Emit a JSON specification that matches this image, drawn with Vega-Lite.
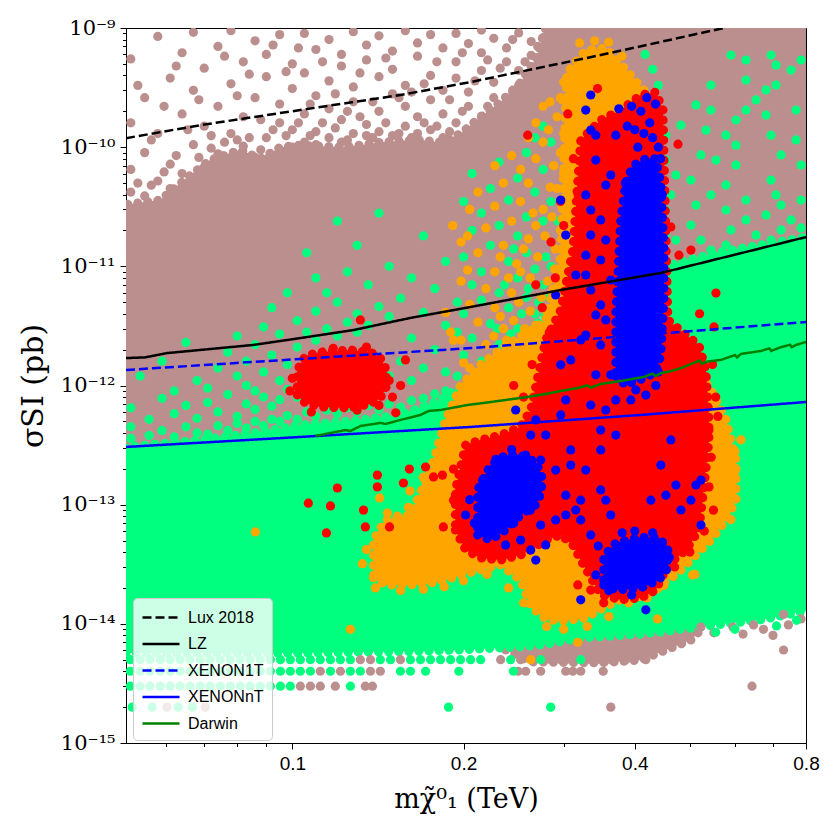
{
  "$schema": "https://vega.github.io/schema/vega-lite/v6.json",
  "width": 680,
  "height": 715,
  "autosize": {"type": "none"},
  "padding": {"left": 126, "top": 28, "right": 34, "bottom": 97},
  "background": "white",
  "config": {
    "view": {"stroke": "black", "strokeWidth": 1},
    "axis": {"grid": false, "domainColor": "black", "tickColor": "black", "labelColor": "black", "titleColor": "black", "titleFontWeight": "normal"}
  },
  "datasets": {
    "brownBand": [
      {"g": "top", "x": 0.051, "y": 3.05e-13, "y2": 3.3e-11},
      {"g": "top", "x": 0.0586, "y": 3.27e-13, "y2": 3.6e-11},
      {"g": "top", "x": 0.0661, "y": 3.4e-13, "y2": 5.8e-11},
      {"g": "top", "x": 0.0717, "y": 3.55e-13, "y2": 7.8e-11},
      {"g": "top", "x": 0.081, "y": 3.84e-13, "y2": 9.5e-11},
      {"g": "top", "x": 0.0878, "y": 4.07e-13, "y2": 8.0e-11},
      {"g": "top", "x": 0.0953, "y": 4.4e-13, "y2": 1.0e-10},
      {"g": "top", "x": 0.1033, "y": 4.66e-13, "y2": 1.04e-10},
      {"g": "top", "x": 0.1215, "y": 5.0e-13, "y2": 1.0e-10},
      {"g": "top", "x": 0.1317, "y": 5.14e-13, "y2": 1.04e-10},
      {"g": "top", "x": 0.1428, "y": 5.35e-13, "y2": 1.1e-10},
      {"g": "top", "x": 0.1549, "y": 5.66e-13, "y2": 1.13e-10},
      {"g": "top", "x": 0.168, "y": 6.5e-13, "y2": 1.15e-10},
      {"g": "top", "x": 0.1822, "y": 7.56e-13, "y2": 1.1e-10},
      {"g": "top", "x": 0.1976, "y": 9.6e-13, "y2": 1.3e-10},
      {"g": "top", "x": 0.2143, "y": 1.3e-12, "y2": 1.8e-10},
      {"g": "top", "x": 0.2324, "y": 1.77e-12, "y2": 2.4e-10},
      {"g": "top", "x": 0.252, "y": 2.41e-12, "y2": 3.5e-10},
      {"g": "top", "x": 0.2679, "y": 3.3e-12, "y2": 5.5e-10},
      {"g": "top", "x": 0.2789, "y": 4.6e-12, "y2": 1e-9},
      {"g": "top", "x": 0.2964, "y": 5.22e-12, "y2": 1e-9},
      {"g": "top", "x": 0.3485, "y": 6.97e-12, "y2": 1e-9},
      {"g": "top", "x": 0.41, "y": 8.46e-12, "y2": 1e-9},
      {"g": "top", "x": 0.4822, "y": 1.09e-11, "y2": 1e-9},
      {"g": "top", "x": 0.567, "y": 1.32e-11, "y2": 1e-9},
      {"g": "top", "x": 0.6668, "y": 1.51e-11, "y2": 1e-9},
      {"g": "top", "x": 0.8, "y": 1.76e-11, "y2": 1e-9},
      {"g": "bot", "x": 0.2371, "y": 6.03e-15, "y2": 7.32e-15},
      {"g": "bot", "x": 0.2625, "y": 4.79e-15, "y2": 7.32e-15},
      {"g": "bot", "x": 0.3485, "y": 4.7e-15, "y2": 8.88e-15},
      {"g": "bot", "x": 0.41, "y": 4.97e-15, "y2": 9.23e-15},
      {"g": "bot", "x": 0.4536, "y": 6.03e-15, "y2": 9.78e-15},
      {"g": "bot", "x": 0.5021, "y": 7.32e-15, "y2": 1.08e-14},
      {"g": "bot", "x": 0.5229, "y": 8.88e-15, "y2": 1.12e-14}
    ],
    "greenBand": [
      {"g": "main", "x": 0.051, "y": 5.69e-15, "y2": 3.05e-13},
      {"g": "main", "x": 0.0689, "y": 5.69e-15, "y2": 3.49e-13},
      {"g": "main", "x": 0.0878, "y": 5.69e-15, "y2": 4.07e-13},
      {"g": "main", "x": 0.1033, "y": 5.69e-15, "y2": 4.66e-13},
      {"g": "main", "x": 0.1317, "y": 5.8e-15, "y2": 5.14e-13},
      {"g": "main", "x": 0.1549, "y": 5.85e-15, "y2": 5.66e-13},
      {"g": "main", "x": 0.1822, "y": 5.95e-15, "y2": 7.56e-13},
      {"g": "main", "x": 0.2058, "y": 6.1e-15, "y2": 1.11e-12},
      {"g": "main", "x": 0.252, "y": 6.4e-15, "y2": 2.41e-12},
      {"g": "main", "x": 0.2733, "y": 6.65e-15, "y2": 3.55e-12},
      {"g": "main", "x": 0.2964, "y": 7.1e-15, "y2": 5.22e-12},
      {"g": "main", "x": 0.3214, "y": 7.61e-15, "y2": 6.2e-12},
      {"g": "main", "x": 0.3485, "y": 7.8e-15, "y2": 6.97e-12},
      {"g": "main", "x": 0.378, "y": 7.98e-15, "y2": 7.7e-12},
      {"g": "main", "x": 0.41, "y": 8.2e-15, "y2": 8.46e-12},
      {"g": "main", "x": 0.4445, "y": 8.54e-15, "y2": 9.6e-12},
      {"g": "main", "x": 0.4822, "y": 9.0e-15, "y2": 1.09e-11},
      {"g": "main", "x": 0.5229, "y": 9.41e-15, "y2": 1.2e-11},
      {"g": "main", "x": 0.567, "y": 9.9e-15, "y2": 1.32e-11},
      {"g": "main", "x": 0.6668, "y": 1.08e-14, "y2": 1.51e-11},
      {"g": "main", "x": 0.8, "y": 1.28e-14, "y2": 1.76e-11}
    ],
    "orangeBand": [
      {"g": "main", "x": 0.1389, "y": 2.43e-14, "y2": 5.05e-14},
      {"g": "main", "x": 0.1458, "y": 2.12e-14, "y2": 7.44e-14},
      {"g": "main", "x": 0.1613, "y": 2.12e-14, "y2": 8.19e-14},
      {"g": "main", "x": 0.175, "y": 2.2e-14, "y2": 1.95e-13},
      {"g": "main", "x": 0.186, "y": 2.33e-14, "y2": 5.14e-13},
      {"g": "main", "x": 0.1976, "y": 2.57e-14, "y2": 1.0e-12},
      {"g": "main", "x": 0.2143, "y": 2.83e-14, "y2": 1.5e-12},
      {"g": "main", "x": 0.2324, "y": 3.12e-14, "y2": 2.0e-12},
      {"g": "main", "x": 0.252, "y": 2.33e-14, "y2": 2.6e-12},
      {"g": "main", "x": 0.2625, "y": 1.4e-14, "y2": 2.9e-12},
      {"g": "main", "x": 0.2789, "y": 1.1e-14, "y2": 3.5e-12},
      {"g": "main", "x": 0.2964, "y": 1.05e-14, "y2": 1.2e-11},
      {"g": "main", "x": 0.3037, "y": 1.07e-14, "y2": 4.2e-10},
      {"g": "main", "x": 0.328, "y": 1.12e-14, "y2": 6.5e-10},
      {"g": "main", "x": 0.3557, "y": 1.4e-14, "y2": 6.8e-10},
      {"g": "main", "x": 0.378, "y": 1.6e-14, "y2": 5.0e-10},
      {"g": "main", "x": 0.41, "y": 1.7e-14, "y2": 3.2e-10},
      {"g": "main", "x": 0.4356, "y": 1.9e-14, "y2": 2.4e-10},
      {"g": "main", "x": 0.4536, "y": 2.3e-14, "y2": 2.92e-12},
      {"g": "main", "x": 0.4724, "y": 2.57e-14, "y2": 2.4e-12},
      {"g": "main", "x": 0.5021, "y": 3.43e-14, "y2": 1.64e-12},
      {"g": "main", "x": 0.5445, "y": 5.05e-14, "y2": 9.17e-13},
      {"g": "main", "x": 0.5786, "y": 7.44e-14, "y2": 5.14e-13},
      {"g": "main", "x": 0.6026, "y": 1.09e-13, "y2": 2.37e-13}
    ],
    "redBand": [
      {"g": "blob", "x": 0.102, "y": 8.32e-13, "y2": 1.35e-12},
      {"g": "blob", "x": 0.1054, "y": 7.13e-13, "y2": 1.77e-12},
      {"g": "blob", "x": 0.112, "y": 6.6e-13, "y2": 1.91e-12},
      {"g": "blob", "x": 0.1265, "y": 6.48e-13, "y2": 1.99e-12},
      {"g": "blob", "x": 0.1372, "y": 7.0e-13, "y2": 1.91e-12},
      {"g": "blob", "x": 0.1428, "y": 7.85e-13, "y2": 1.7e-12},
      {"g": "blob", "x": 0.1464, "y": 9.81e-13, "y2": 1.35e-12},
      {"g": "main", "x": 0.1935, "y": 6.13e-14, "y2": 1.33e-13},
      {"g": "main", "x": 0.2017, "y": 4.17e-14, "y2": 3.17e-13},
      {"g": "main", "x": 0.2143, "y": 3.57e-14, "y2": 3.49e-13},
      {"g": "main", "x": 0.2324, "y": 3.43e-14, "y2": 3.84e-13},
      {"g": "main", "x": 0.252, "y": 3.78e-14, "y2": 4.5e-13},
      {"g": "main", "x": 0.2625, "y": 4.17e-14, "y2": 6.23e-13},
      {"g": "main", "x": 0.2789, "y": 5.05e-14, "y2": 2.41e-12},
      {"g": "main", "x": 0.2964, "y": 5.57e-14, "y2": 4.3e-12},
      {"g": "main", "x": 0.3113, "y": 4.59e-14, "y2": 1.37e-11},
      {"g": "main", "x": 0.3214, "y": 3.43e-14, "y2": 1.149e-10},
      {"g": "main", "x": 0.3485, "y": 1.75e-14, "y2": 1.69e-10},
      {"g": "main", "x": 0.378, "y": 1.59e-14, "y2": 2.05e-10},
      {"g": "main", "x": 0.41, "y": 1.65e-14, "y2": 2.74e-10},
      {"g": "main", "x": 0.4356, "y": 1.92e-14, "y2": 2.9e-10},
      {"g": "main", "x": 0.4484, "y": 2.57e-14, "y2": 2.05e-10},
      {"g": "main", "x": 0.4575, "y": 3.12e-14, "y2": 3.55e-12},
      {"g": "main", "x": 0.4924, "y": 4.17e-14, "y2": 2.65e-12},
      {"g": "main", "x": 0.5186, "y": 6.13e-14, "y2": 2.19e-12},
      {"g": "main", "x": 0.5335, "y": 1.95e-13, "y2": 1.35e-12},
      {"g": "main", "x": 0.5401, "y": 3.49e-13, "y2": 5.14e-13}
    ],
    "blueBand": [
      {"g": "col", "x": 0.3704, "y": 1.2e-12, "y2": 4.0e-12},
      {"g": "col", "x": 0.378, "y": 1.1e-12, "y2": 2.5e-11},
      {"g": "col", "x": 0.3857, "y": 1.0e-12, "y2": 5.0e-11},
      {"g": "col", "x": 0.3968, "y": 1.07e-12, "y2": 7.0e-11},
      {"g": "col", "x": 0.4183, "y": 1.16e-12, "y2": 8.0e-11},
      {"g": "col", "x": 0.4356, "y": 1.3e-12, "y2": 8.0e-11},
      {"g": "col", "x": 0.4445, "y": 1.8e-12, "y2": 5.0e-11},
      {"g": "col", "x": 0.45, "y": 5.22e-12, "y2": 1.5e-11},
      {"g": "b1", "x": 0.2117, "y": 5.57e-14, "y2": 1.33e-13},
      {"g": "b1", "x": 0.2232, "y": 5.05e-14, "y2": 2.15e-13},
      {"g": "b1", "x": 0.2371, "y": 6.13e-14, "y2": 2.61e-13},
      {"g": "b1", "x": 0.252, "y": 8.19e-14, "y2": 2.61e-13},
      {"g": "b1", "x": 0.2678, "y": 9.94e-14, "y2": 2.28e-13},
      {"g": "b1", "x": 0.2744, "y": 1.28e-13, "y2": 1.77e-13},
      {"g": "b2", "x": 0.3527, "y": 2.12e-14, "y2": 3.71e-14},
      {"g": "b2", "x": 0.3705, "y": 1.92e-14, "y2": 4.77e-14},
      {"g": "b2", "x": 0.41, "y": 2.0e-14, "y2": 5.36e-14},
      {"g": "b2", "x": 0.441, "y": 2.33e-14, "y2": 5.25e-14},
      {"g": "b2", "x": 0.4575, "y": 2.94e-14, "y2": 4.33e-14}
    ],
    "dots": [
      {"c": "br", "x": 0.052, "y": 4.2e-11}, {"c": "br", "x": 0.052, "y": 6.5e-11}, {"c": "br", "x": 0.052, "y": 1.6e-10}, {"c": "br", "x": 0.052, "y": 5.5e-10},
      {"c": "br", "x": 0.055, "y": 3.9e-11}, {"c": "br", "x": 0.055, "y": 9e-11}, {"c": "br", "x": 0.055, "y": 2.6e-10},
      {"c": "br", "x": 0.058, "y": 5.2e-11}, {"c": "br", "x": 0.058, "y": 1.3e-10}, {"c": "br", "x": 0.058, "y": 8.5e-10},
      {"c": "br", "x": 0.061, "y": 4.5e-11}, {"c": "br", "x": 0.061, "y": 7.2e-11}, {"c": "br", "x": 0.061, "y": 3.8e-10},
      {"c": "br", "x": 0.064, "y": 6e-11}, {"c": "br", "x": 0.064, "y": 1.9e-10}, {"c": "br", "x": 0.064, "y": 6.2e-10},
      {"c": "br", "x": 0.067, "y": 5.5e-11}, {"c": "br", "x": 0.067, "y": 1.05e-10}, {"c": "br", "x": 0.067, "y": 3e-10}, {"c": "br", "x": 0.067, "y": 9.2e-10},
      {"c": "br", "x": 0.07, "y": 6.8e-11}, {"c": "br", "x": 0.07, "y": 1.5e-10}, {"c": "br", "x": 0.07, "y": 4.6e-10},
      {"c": "br", "x": 0.074, "y": 6.2e-11}, {"c": "br", "x": 0.074, "y": 8.8e-11}, {"c": "br", "x": 0.074, "y": 2.2e-10}, {"c": "br", "x": 0.074, "y": 7e-10},
      {"c": "br", "x": 0.078, "y": 7.5e-11}, {"c": "br", "x": 0.078, "y": 1.3e-10}, {"c": "br", "x": 0.078, "y": 3.4e-10}, {"c": "br", "x": 0.078, "y": 9.5e-10},
      {"c": "br", "x": 0.082, "y": 6.8e-11}, {"c": "br", "x": 0.082, "y": 1.02e-10}, {"c": "br", "x": 0.082, "y": 1.8e-10}, {"c": "br", "x": 0.082, "y": 5.2e-10},
      {"c": "br", "x": 0.086, "y": 8.2e-11}, {"c": "br", "x": 0.086, "y": 2.6e-10}, {"c": "br", "x": 0.086, "y": 7.8e-10},
      {"c": "br", "x": 0.09, "y": 7.9e-11}, {"c": "br", "x": 0.09, "y": 1.2e-10}, {"c": "br", "x": 0.09, "y": 3.9e-10}, {"c": "br", "x": 0.09, "y": 6e-10},
      {"c": "br", "x": 0.095, "y": 9e-11}, {"c": "br", "x": 0.095, "y": 1.6e-10}, {"c": "br", "x": 0.095, "y": 2.3e-10}, {"c": "br", "x": 0.095, "y": 8.8e-10},
      {"c": "br", "x": 0.1, "y": 1e-10}, {"c": "br", "x": 0.1, "y": 1.4e-10}, {"c": "br", "x": 0.1, "y": 3.1e-10}, {"c": "br", "x": 0.1, "y": 5e-10},
      {"c": "br", "x": 0.105, "y": 1.1e-10}, {"c": "br", "x": 0.105, "y": 1.9e-10}, {"c": "br", "x": 0.105, "y": 4.2e-10}, {"c": "br", "x": 0.105, "y": 9e-10},
      {"c": "br", "x": 0.11, "y": 1.05e-10}, {"c": "br", "x": 0.11, "y": 1.35e-10}, {"c": "br", "x": 0.11, "y": 2.7e-10}, {"c": "br", "x": 0.11, "y": 6.6e-10},
      {"c": "br", "x": 0.116, "y": 1.2e-10}, {"c": "br", "x": 0.116, "y": 2.1e-10}, {"c": "br", "x": 0.116, "y": 3.6e-10}, {"c": "br", "x": 0.116, "y": 8e-10},
      {"c": "br", "x": 0.122, "y": 1.1e-10}, {"c": "br", "x": 0.122, "y": 1.7e-10}, {"c": "br", "x": 0.122, "y": 4.8e-10}, {"c": "br", "x": 0.122, "y": 6e-10},
      {"c": "br", "x": 0.128, "y": 1.3e-10}, {"c": "br", "x": 0.128, "y": 2.4e-10}, {"c": "br", "x": 0.128, "y": 3.2e-10}, {"c": "br", "x": 0.128, "y": 9.3e-10},
      {"c": "br", "x": 0.135, "y": 1.25e-10}, {"c": "br", "x": 0.135, "y": 1.55e-10}, {"c": "br", "x": 0.135, "y": 5.4e-10}, {"c": "br", "x": 0.135, "y": 7.2e-10},
      {"c": "br", "x": 0.142, "y": 1.35e-10}, {"c": "br", "x": 0.142, "y": 2e-10}, {"c": "br", "x": 0.142, "y": 3.9e-10}, {"c": "br", "x": 0.142, "y": 8.6e-10},
      {"c": "br", "x": 0.15, "y": 1.25e-10}, {"c": "br", "x": 0.15, "y": 2.8e-10}, {"c": "br", "x": 0.15, "y": 4.5e-10}, {"c": "br", "x": 0.15, "y": 6.4e-10},
      {"c": "br", "x": 0.158, "y": 1.5e-10}, {"c": "br", "x": 0.158, "y": 2.2e-10}, {"c": "br", "x": 0.158, "y": 3.3e-10}, {"c": "br", "x": 0.158, "y": 9.5e-10},
      {"c": "br", "x": 0.166, "y": 1.3e-10}, {"c": "br", "x": 0.166, "y": 1.8e-10}, {"c": "br", "x": 0.166, "y": 5.8e-10}, {"c": "br", "x": 0.166, "y": 7.5e-10},
      {"c": "br", "x": 0.175, "y": 1.4e-10}, {"c": "br", "x": 0.175, "y": 2.5e-10}, {"c": "br", "x": 0.175, "y": 4e-10}, {"c": "br", "x": 0.175, "y": 8.8e-10},
      {"c": "br", "x": 0.184, "y": 1.2e-10}, {"c": "br", "x": 0.184, "y": 1.9e-10}, {"c": "br", "x": 0.184, "y": 3e-10}, {"c": "br", "x": 0.184, "y": 6.8e-10},
      {"c": "br", "x": 0.194, "y": 1.05e-10}, {"c": "br", "x": 0.194, "y": 1.6e-10}, {"c": "br", "x": 0.194, "y": 3.8e-10}, {"c": "br", "x": 0.194, "y": 5.2e-10}, {"c": "br", "x": 0.194, "y": 9e-10},
      {"c": "br", "x": 0.204, "y": 1.2e-10}, {"c": "br", "x": 0.204, "y": 2.2e-10}, {"c": "br", "x": 0.204, "y": 2.9e-10}, {"c": "br", "x": 0.204, "y": 7.4e-10},
      {"c": "br", "x": 0.215, "y": 1.35e-10}, {"c": "br", "x": 0.215, "y": 1.8e-10}, {"c": "br", "x": 0.215, "y": 4.4e-10}, {"c": "br", "x": 0.215, "y": 6.2e-10}, {"c": "br", "x": 0.215, "y": 9.6e-10},
      {"c": "br", "x": 0.226, "y": 1.9e-10}, {"c": "br", "x": 0.226, "y": 2.6e-10}, {"c": "br", "x": 0.226, "y": 3.5e-10}, {"c": "br", "x": 0.226, "y": 8.2e-10},
      {"c": "br", "x": 0.238, "y": 1.7e-10}, {"c": "br", "x": 0.238, "y": 2.3e-10}, {"c": "br", "x": 0.238, "y": 5.2e-10}, {"c": "br", "x": 0.238, "y": 6.8e-10},
      {"c": "br", "x": 0.25, "y": 2.1e-10}, {"c": "br", "x": 0.25, "y": 3.3e-10}, {"c": "br", "x": 0.25, "y": 4.4e-10}, {"c": "br", "x": 0.25, "y": 9.1e-10},
      {"c": "br", "x": 0.263, "y": 3.2e-10}, {"c": "br", "x": 0.263, "y": 4.1e-10}, {"c": "br", "x": 0.263, "y": 5.9e-10}, {"c": "br", "x": 0.263, "y": 7.7e-10},
      {"c": "br", "x": 0.276, "y": 4.5e-10}, {"c": "br", "x": 0.276, "y": 6e-10}, {"c": "br", "x": 0.276, "y": 8.3e-10},
      {"c": "br", "x": 0.0535, "y": 5e-11}, {"c": "br", "x": 0.0535, "y": 3.3e-10}, {"c": "br", "x": 0.0565, "y": 4.8e-11}, {"c": "br", "x": 0.0565, "y": 1.15e-10},
      {"c": "br", "x": 0.0595, "y": 6.2e-11}, {"c": "br", "x": 0.0595, "y": 2.2e-10}, {"c": "br", "x": 0.0625, "y": 8.5e-11}, {"c": "br", "x": 0.0625, "y": 4.8e-10},
      {"c": "br", "x": 0.0655, "y": 4.9e-11}, {"c": "br", "x": 0.0655, "y": 1.4e-10}, {"c": "br", "x": 0.0685, "y": 8.2e-11}, {"c": "br", "x": 0.0685, "y": 2.5e-10},
      {"c": "br", "x": 0.072, "y": 9.8e-11}, {"c": "br", "x": 0.072, "y": 1.25e-10}, {"c": "br", "x": 0.076, "y": 1.1e-10}, {"c": "br", "x": 0.076, "y": 5.8e-10},
      {"c": "br", "x": 0.08, "y": 1.15e-10}, {"c": "br", "x": 0.08, "y": 2.7e-10}, {"c": "br", "x": 0.084, "y": 1.2e-10}, {"c": "br", "x": 0.084, "y": 4.1e-10},
      {"c": "br", "x": 0.088, "y": 9.5e-11}, {"c": "br", "x": 0.088, "y": 1.7e-10}, {"c": "br", "x": 0.0925, "y": 1.4e-10}, {"c": "br", "x": 0.0925, "y": 7.2e-10},
      {"c": "br", "x": 0.0975, "y": 1.25e-10}, {"c": "br", "x": 0.0975, "y": 4.3e-10}, {"c": "br", "x": 0.1025, "y": 1.6e-10}, {"c": "br", "x": 0.1025, "y": 6.8e-10},
      {"c": "br", "x": 0.1075, "y": 2.3e-10}, {"c": "br", "x": 0.1075, "y": 1.25e-10}, {"c": "br", "x": 0.113, "y": 1.6e-10}, {"c": "br", "x": 0.113, "y": 5.2e-10},
      {"c": "br", "x": 0.119, "y": 1.45e-10}, {"c": "br", "x": 0.119, "y": 2.8e-10}, {"c": "br", "x": 0.125, "y": 2e-10}, {"c": "br", "x": 0.125, "y": 1.15e-10},
      {"c": "br", "x": 0.1315, "y": 1.8e-10}, {"c": "br", "x": 0.1315, "y": 4.2e-10}, {"c": "br", "x": 0.1385, "y": 2.4e-10}, {"c": "br", "x": 0.1385, "y": 1.2e-10},
      {"c": "br", "x": 0.146, "y": 1.6e-10}, {"c": "br", "x": 0.146, "y": 5.6e-10}, {"c": "br", "x": 0.154, "y": 1.3e-10}, {"c": "br", "x": 0.154, "y": 2.6e-10},
      {"c": "br", "x": 0.162, "y": 2.9e-10}, {"c": "br", "x": 0.162, "y": 1.2e-10}, {"c": "br", "x": 0.1705, "y": 1.6e-10}, {"c": "br", "x": 0.1705, "y": 3.4e-10},
      {"c": "br", "x": 0.1795, "y": 1.5e-10}, {"c": "br", "x": 0.1795, "y": 5.2e-10}, {"c": "br", "x": 0.189, "y": 2.5e-10}, {"c": "br", "x": 0.189, "y": 1.35e-10},
      {"c": "br", "x": 0.199, "y": 2e-10}, {"c": "br", "x": 0.199, "y": 6.2e-10}, {"c": "br", "x": 0.2095, "y": 1.55e-10}, {"c": "br", "x": 0.2095, "y": 3.6e-10},
      {"c": "br", "x": 0.2205, "y": 2.2e-10}, {"c": "br", "x": 0.2205, "y": 5.4e-10}, {"c": "br", "x": 0.232, "y": 1.5e-10}, {"c": "br", "x": 0.232, "y": 4.6e-10},
      {"c": "br", "x": 0.244, "y": 2.9e-10}, {"c": "br", "x": 0.244, "y": 8e-10}, {"c": "br", "x": 0.2565, "y": 2.6e-10}, {"c": "br", "x": 0.2565, "y": 5.2e-10},
      {"c": "br", "x": 0.27, "y": 3.7e-10}, {"c": "br", "x": 0.27, "y": 7e-10},
      {"c": "br", "x": 0.1317, "y": 5e-15}, {"c": "br", "x": 0.1372, "y": 5e-15}, {"c": "br", "x": 0.1549, "y": 5e-15}, {"c": "br", "x": 0.2324, "y": 5e-15}, {"c": "br", "x": 0.252, "y": 5e-15},
      {"c": "br", "x": 0.2846, "y": 5e-15}, {"c": "br", "x": 0.2964, "y": 5e-15}, {"c": "br", "x": 0.3087, "y": 5e-15}, {"c": "br", "x": 0.3347, "y": 5e-15}, {"c": "br", "x": 0.3485, "y": 5e-15}, {"c": "br", "x": 0.363, "y": 5e-15}, {"c": "br", "x": 0.3857, "y": 5e-15}, {"c": "br", "x": 0.4183, "y": 5e-15},
      {"c": "br", "x": 0.112, "y": 4e-15}, {"c": "br", "x": 0.1215, "y": 4e-15}, {"c": "br", "x": 0.1372, "y": 4e-15}, {"c": "br", "x": 0.1428, "y": 4e-15},
      {"c": "br", "x": 0.2495, "y": 4e-15}, {"c": "br", "x": 0.2572, "y": 4e-15}, {"c": "br", "x": 0.2733, "y": 4e-15}, {"c": "br", "x": 0.3025, "y": 4e-15}, {"c": "br", "x": 0.3113, "y": 4e-15}, {"c": "br", "x": 0.3214, "y": 4e-15}, {"c": "br", "x": 0.352, "y": 4e-15},
      {"c": "br", "x": 0.1033, "y": 3e-15}, {"c": "br", "x": 0.1076, "y": 3e-15}, {"c": "br", "x": 0.112, "y": 3e-15}, {"c": "br", "x": 0.119, "y": 3e-15}, {"c": "br", "x": 0.1344, "y": 3e-15}, {"c": "br", "x": 0.1383, "y": 3e-15}, {"c": "br", "x": 0.643, "y": 3e-15},
      {"c": "br", "x": 0.0602, "y": 2e-15}, {"c": "br", "x": 0.0703, "y": 2e-15}, {"c": "br", "x": 0.363, "y": 2e-15},
      {"c": "br", "x": 0.7305, "y": 6.03e-15}, {"c": "br", "x": 0.5229, "y": 9.4e-15}, {"c": "br", "x": 0.551, "y": 8.4e-15}, {"c": "br", "x": 0.595, "y": 9.4e-15}, {"c": "br", "x": 0.647, "y": 9.8e-15}, {"c": "br", "x": 0.6735, "y": 9.0e-15}, {"c": "br", "x": 0.7305, "y": 1.2e-14}, {"c": "br", "x": 0.745, "y": 9.8e-15}, {"c": "br", "x": 0.784, "y": 1.1e-14}, {"c": "br", "x": 0.62, "y": 8.2e-15}, {"c": "br", "x": 0.7, "y": 8.0e-15},

      {"c": "gr", "x": 0.052, "y": 3.6e-13}, {"c": "gr", "x": 0.052, "y": 4.5e-13}, {"c": "gr", "x": 0.052, "y": 6.5e-13}, {"c": "gr", "x": 0.054, "y": 1.2e-12},
      {"c": "gr", "x": 0.056, "y": 3.8e-13}, {"c": "gr", "x": 0.056, "y": 5.2e-13},
      {"c": "gr", "x": 0.059, "y": 4.2e-13}, {"c": "gr", "x": 0.059, "y": 7.8e-13}, {"c": "gr", "x": 0.059, "y": 1.6e-12},
      {"c": "gr", "x": 0.062, "y": 3.7e-13}, {"c": "gr", "x": 0.062, "y": 5.8e-13}, {"c": "gr", "x": 0.062, "y": 9e-13},
      {"c": "gr", "x": 0.065, "y": 4.5e-13}, {"c": "gr", "x": 0.065, "y": 6.8e-13}, {"c": "gr", "x": 0.065, "y": 2.3e-12},
      {"c": "gr", "x": 0.068, "y": 4e-13}, {"c": "gr", "x": 0.068, "y": 5.3e-13}, {"c": "gr", "x": 0.068, "y": 1.1e-12},
      {"c": "gr", "x": 0.071, "y": 3.9e-13}, {"c": "gr", "x": 0.071, "y": 7.2e-13}, {"c": "gr", "x": 0.071, "y": 9.5e-13},
      {"c": "gr", "x": 0.074, "y": 4.6e-13}, {"c": "gr", "x": 0.074, "y": 6e-13}, {"c": "gr", "x": 0.074, "y": 1.4e-12},
      {"c": "gr", "x": 0.077, "y": 4.2e-13}, {"c": "gr", "x": 0.077, "y": 8.4e-13}, {"c": "gr", "x": 0.077, "y": 1.9e-12},
      {"c": "gr", "x": 0.08, "y": 4.8e-13}, {"c": "gr", "x": 0.08, "y": 5.5e-13}, {"c": "gr", "x": 0.08, "y": 1.2e-12}, {"c": "gr", "x": 0.08, "y": 2.6e-12},
      {"c": "gr", "x": 0.083, "y": 4.4e-13}, {"c": "gr", "x": 0.083, "y": 7e-13}, {"c": "gr", "x": 0.083, "y": 1e-12}, {"c": "gr", "x": 0.083, "y": 1.6e-12},
      {"c": "gr", "x": 0.086, "y": 5e-13}, {"c": "gr", "x": 0.086, "y": 6.3e-13}, {"c": "gr", "x": 0.086, "y": 9e-13}, {"c": "gr", "x": 0.086, "y": 2.2e-12},
      {"c": "gr", "x": 0.089, "y": 4.6e-13}, {"c": "gr", "x": 0.089, "y": 8e-13}, {"c": "gr", "x": 0.089, "y": 1.3e-12}, {"c": "gr", "x": 0.089, "y": 3.1e-12},
      {"c": "gr", "x": 0.092, "y": 5.2e-13}, {"c": "gr", "x": 0.092, "y": 6.7e-13}, {"c": "gr", "x": 0.092, "y": 1.8e-12}, {"c": "gr", "x": 0.092, "y": 4.5e-12},
      {"c": "gr", "x": 0.095, "y": 5e-13}, {"c": "gr", "x": 0.095, "y": 7.6e-13}, {"c": "gr", "x": 0.095, "y": 1.1e-12}, {"c": "gr", "x": 0.095, "y": 2.7e-12},
      {"c": "gr", "x": 0.098, "y": 5.6e-13}, {"c": "gr", "x": 0.098, "y": 9.3e-13}, {"c": "gr", "x": 0.098, "y": 1.5e-12}, {"c": "gr", "x": 0.098, "y": 6e-12},
      {"c": "gr", "x": 0.102, "y": 5.2e-13}, {"c": "gr", "x": 0.102, "y": 8e-13}, {"c": "gr", "x": 0.102, "y": 2.1e-12}, {"c": "gr", "x": 0.102, "y": 3.5e-12},
      {"c": "gr", "x": 0.106, "y": 6e-13}, {"c": "gr", "x": 0.106, "y": 2.8e-12}, {"c": "gr", "x": 0.106, "y": 1.3e-11},
      {"c": "gr", "x": 0.11, "y": 5.5e-13}, {"c": "gr", "x": 0.11, "y": 2.4e-12}, {"c": "gr", "x": 0.11, "y": 4.2e-12}, {"c": "gr", "x": 0.11, "y": 8e-12},
      {"c": "gr", "x": 0.115, "y": 6.2e-13}, {"c": "gr", "x": 0.115, "y": 3e-12}, {"c": "gr", "x": 0.115, "y": 6e-12},
      {"c": "gr", "x": 0.12, "y": 5.8e-13}, {"c": "gr", "x": 0.12, "y": 2.6e-12}, {"c": "gr", "x": 0.12, "y": 5e-12}, {"c": "gr", "x": 0.12, "y": 2.4e-11},
      {"c": "gr", "x": 0.125, "y": 6.5e-13}, {"c": "gr", "x": 0.125, "y": 3.4e-12}, {"c": "gr", "x": 0.125, "y": 9e-12},
      {"c": "gr", "x": 0.13, "y": 6e-13}, {"c": "gr", "x": 0.13, "y": 2.8e-12}, {"c": "gr", "x": 0.13, "y": 4e-12}, {"c": "gr", "x": 0.13, "y": 1.5e-11},
      {"c": "gr", "x": 0.136, "y": 6.8e-13}, {"c": "gr", "x": 0.136, "y": 3.2e-12}, {"c": "gr", "x": 0.136, "y": 7e-12},
      {"c": "gr", "x": 0.142, "y": 6.3e-13}, {"c": "gr", "x": 0.142, "y": 9e-13}, {"c": "gr", "x": 0.142, "y": 4.6e-12}, {"c": "gr", "x": 0.142, "y": 2.8e-11},
      {"c": "gr", "x": 0.148, "y": 7e-13}, {"c": "gr", "x": 0.148, "y": 1.2e-12}, {"c": "gr", "x": 0.148, "y": 3.8e-12}, {"c": "gr", "x": 0.148, "y": 1e-11},
      {"c": "gr", "x": 0.155, "y": 6.6e-13}, {"c": "gr", "x": 0.155, "y": 1.6e-12}, {"c": "gr", "x": 0.155, "y": 5.4e-12},
      {"c": "gr", "x": 0.162, "y": 7.5e-13}, {"c": "gr", "x": 0.162, "y": 1.1e-12}, {"c": "gr", "x": 0.162, "y": 2.5e-12}, {"c": "gr", "x": 0.162, "y": 8e-12},
      {"c": "gr", "x": 0.17, "y": 7.8e-13}, {"c": "gr", "x": 0.17, "y": 1.4e-12}, {"c": "gr", "x": 0.17, "y": 4.1e-12}, {"c": "gr", "x": 0.17, "y": 1.8e-11},
      {"c": "gr", "x": 0.178, "y": 8.5e-13}, {"c": "gr", "x": 0.178, "y": 2e-12}, {"c": "gr", "x": 0.178, "y": 6.5e-12},
      {"c": "gr", "x": 0.186, "y": 9e-13}, {"c": "gr", "x": 0.186, "y": 1.3e-12}, {"c": "gr", "x": 0.186, "y": 3.2e-12}, {"c": "gr", "x": 0.186, "y": 1.1e-11},
      {"c": "gr", "x": 0.195, "y": 1.2e-12}, {"c": "gr", "x": 0.195, "y": 2.8e-12}, {"c": "gr", "x": 0.195, "y": 5e-12},
      {"c": "gr", "x": 0.2, "y": 1.8e-12}, {"c": "gr", "x": 0.2, "y": 4e-12}, {"c": "gr", "x": 0.2, "y": 1.2e-11}, {"c": "gr", "x": 0.2, "y": 3.5e-11},
      {"c": "gr", "x": 0.207, "y": 2.5e-12}, {"c": "gr", "x": 0.207, "y": 7e-12}, {"c": "gr", "x": 0.207, "y": 2e-11}, {"c": "gr", "x": 0.207, "y": 6e-11},
      {"c": "gr", "x": 0.215, "y": 1.6e-12}, {"c": "gr", "x": 0.215, "y": 5.2e-12}, {"c": "gr", "x": 0.215, "y": 9e-12}, {"c": "gr", "x": 0.215, "y": 2.8e-11},
      {"c": "gr", "x": 0.223, "y": 3.3e-12}, {"c": "gr", "x": 0.223, "y": 1.5e-11}, {"c": "gr", "x": 0.223, "y": 4.5e-11},
      {"c": "gr", "x": 0.231, "y": 2.2e-12}, {"c": "gr", "x": 0.231, "y": 6e-12}, {"c": "gr", "x": 0.231, "y": 2.2e-11}, {"c": "gr", "x": 0.231, "y": 7.5e-11},
      {"c": "gr", "x": 0.24, "y": 4.5e-12}, {"c": "gr", "x": 0.24, "y": 1.1e-11}, {"c": "gr", "x": 0.24, "y": 3.6e-11},
      {"c": "gr", "x": 0.249, "y": 3e-12}, {"c": "gr", "x": 0.249, "y": 8e-12}, {"c": "gr", "x": 0.249, "y": 1.8e-11}, {"c": "gr", "x": 0.249, "y": 5.5e-11},
      {"c": "gr", "x": 0.258, "y": 5.5e-12}, {"c": "gr", "x": 0.258, "y": 1.3e-11}, {"c": "gr", "x": 0.258, "y": 2.6e-11}, {"c": "gr", "x": 0.258, "y": 9e-11},
      {"c": "gr", "x": 0.267, "y": 4e-12}, {"c": "gr", "x": 0.267, "y": 9.5e-12}, {"c": "gr", "x": 0.267, "y": 4.2e-11}, {"c": "gr", "x": 0.267, "y": 1.2e-10},
      {"c": "gr", "x": 0.276, "y": 7e-12}, {"c": "gr", "x": 0.276, "y": 2.4e-11}, {"c": "gr", "x": 0.276, "y": 6.5e-11}, {"c": "gr", "x": 0.276, "y": 1.5e-10},
      {"c": "gr", "x": 0.285, "y": 1e-11}, {"c": "gr", "x": 0.285, "y": 3.5e-11}, {"c": "gr", "x": 0.285, "y": 1.1e-10},
      {"c": "gr", "x": 0.5905, "y": 5.93e-10}, {"c": "gr", "x": 0.6275, "y": 5.39e-10}, {"c": "gr", "x": 0.6944, "y": 5.93e-10}, {"c": "gr", "x": 0.7843, "y": 5.39e-10}, {"c": "gr", "x": 0.7532, "y": 4.44e-10},
      {"c": "gr", "x": 0.7086, "y": 4.89e-10}, {"c": "gr", "x": 0.7086, "y": 3.32e-10}, {"c": "gr", "x": 0.6275, "y": 3.66e-10}, {"c": "gr", "x": 0.5445, "y": 3.32e-10}, {"c": "gr", "x": 0.6805, "y": 3.02e-10},
      {"c": "gr", "x": 0.6535, "y": 2.49e-10}, {"c": "gr", "x": 0.7685, "y": 2.05e-10}, {"c": "gr", "x": 0.5124, "y": 2.26e-10}, {"c": "gr", "x": 0.5445, "y": 2.05e-10}, {"c": "gr", "x": 0.6275, "y": 2.05e-10},
      {"c": "gr", "x": 0.6805, "y": 1.86e-10}, {"c": "gr", "x": 0.6026, "y": 1.69e-10}, {"c": "gr", "x": 0.5786, "y": 1.26e-10}, {"c": "gr", "x": 0.6944, "y": 1.26e-10}, {"c": "gr", "x": 0.7685, "y": 1.15e-10},
      {"c": "gr", "x": 0.5336, "y": 1.39e-10}, {"c": "gr", "x": 0.4822, "y": 1.53e-10}, {"c": "gr", "x": 0.4536, "y": 1.26e-10}, {"c": "gr", "x": 0.6026, "y": 1.04e-10}, {"c": "gr", "x": 0.5229, "y": 8.6e-11},
      {"c": "gr", "x": 0.5557, "y": 7.8e-11}, {"c": "gr", "x": 0.6026, "y": 7.08e-11}, {"c": "gr", "x": 0.7233, "y": 8.6e-11}, {"c": "gr", "x": 0.7843, "y": 7.08e-11}, {"c": "gr", "x": 0.6944, "y": 5.3e-11},
      {"c": "gr", "x": 0.5021, "y": 5.3e-11}, {"c": "gr", "x": 0.5786, "y": 4.81e-11}, {"c": "gr", "x": 0.4629, "y": 3.97e-11}, {"c": "gr", "x": 0.5445, "y": 3.97e-11}, {"c": "gr", "x": 0.7086, "y": 3.97e-11},
      {"c": "gr", "x": 0.6275, "y": 3.6e-11}, {"c": "gr", "x": 0.5786, "y": 2.97e-11}, {"c": "gr", "x": 0.7233, "y": 3.27e-11}, {"c": "gr", "x": 0.7843, "y": 3.6e-11}, {"c": "gr", "x": 0.5124, "y": 3.27e-11},
      {"c": "gr", "x": 0.6275, "y": 2.45e-11}, {"c": "gr", "x": 0.6805, "y": 2.7e-11}, {"c": "gr", "x": 0.7532, "y": 2.45e-11}, {"c": "gr", "x": 0.5021, "y": 2.22e-11}, {"c": "gr", "x": 0.5905, "y": 2.02e-11},
      {"c": "gr", "x": 0.6535, "y": 1.83e-11}, {"c": "gr", "x": 0.7233, "y": 2.02e-11}, {"c": "gr", "x": 0.7843, "y": 2.1e-11}, {"c": "gr", "x": 0.4536, "y": 1.83e-11}, {"c": "gr", "x": 0.4724, "y": 1.66e-11},
      {"c": "gr", "x": 0.5229, "y": 1.66e-11}, {"c": "gr", "x": 0.5786, "y": 1.51e-11}, {"c": "gr", "x": 0.4724, "y": 5.84e-11}, {"c": "gr", "x": 0.4536, "y": 7.8e-11}, {"c": "gr", "x": 0.4536, "y": 2.97e-11},
      {"c": "gr", "x": 0.6944, "y": 1.66e-11}, {"c": "gr", "x": 0.7532, "y": 1.51e-11}, {"c": "gr", "x": 0.5445, "y": 1.37e-11}, {"c": "gr", "x": 0.6149, "y": 1.24e-11},
      {"c": "gr", "x": 0.417, "y": 6e-10}, {"c": "gr", "x": 0.43, "y": 4.5e-10}, {"c": "gr", "x": 0.44, "y": 3.3e-10},
      {"c": "gr", "x": 0.0519, "y": 5e-15}, {"c": "gr", "x": 0.054, "y": 5e-15}, {"c": "gr", "x": 0.0562, "y": 5e-15}, {"c": "gr", "x": 0.0586, "y": 5e-15}, {"c": "gr", "x": 0.061, "y": 5e-15}, {"c": "gr", "x": 0.0635, "y": 5e-15},
      {"c": "gr", "x": 0.0661, "y": 5e-15}, {"c": "gr", "x": 0.0689, "y": 5e-15}, {"c": "gr", "x": 0.0717, "y": 5e-15}, {"c": "gr", "x": 0.0747, "y": 5e-15}, {"c": "gr", "x": 0.0778, "y": 5e-15}, {"c": "gr", "x": 0.081, "y": 5e-15},
      {"c": "gr", "x": 0.0843, "y": 5e-15}, {"c": "gr", "x": 0.0878, "y": 5e-15}, {"c": "gr", "x": 0.0915, "y": 5e-15}, {"c": "gr", "x": 0.0953, "y": 5e-15}, {"c": "gr", "x": 0.0992, "y": 5e-15}, {"c": "gr", "x": 0.1033, "y": 5e-15},
      {"c": "gr", "x": 0.1076, "y": 5e-15}, {"c": "gr", "x": 0.112, "y": 5e-15}, {"c": "gr", "x": 0.1167, "y": 5e-15}, {"c": "gr", "x": 0.1215, "y": 5e-15}, {"c": "gr", "x": 0.1265, "y": 5e-15},
      {"c": "gr", "x": 0.1428, "y": 5e-15}, {"c": "gr", "x": 0.1488, "y": 5e-15}, {"c": "gr", "x": 0.1613, "y": 5e-15}, {"c": "gr", "x": 0.168, "y": 5e-15}, {"c": "gr", "x": 0.175, "y": 5e-15}, {"c": "gr", "x": 0.1822, "y": 5e-15},
      {"c": "gr", "x": 0.1898, "y": 5e-15}, {"c": "gr", "x": 0.1976, "y": 5e-15}, {"c": "gr", "x": 0.2058, "y": 5e-15}, {"c": "gr", "x": 0.2143, "y": 5e-15}, {"c": "gr", "x": 0.242, "y": 5e-15}, {"c": "gr", "x": 0.2733, "y": 5e-15}, {"c": "gr", "x": 0.3214, "y": 5e-15},
      {"c": "gr", "x": 0.0519, "y": 4e-15}, {"c": "gr", "x": 0.054, "y": 4e-15}, {"c": "gr", "x": 0.0562, "y": 4e-15}, {"c": "gr", "x": 0.0586, "y": 4e-15}, {"c": "gr", "x": 0.061, "y": 4e-15}, {"c": "gr", "x": 0.0635, "y": 4e-15},
      {"c": "gr", "x": 0.0661, "y": 4e-15}, {"c": "gr", "x": 0.0689, "y": 4e-15}, {"c": "gr", "x": 0.0717, "y": 4e-15}, {"c": "gr", "x": 0.0747, "y": 4e-15}, {"c": "gr", "x": 0.0778, "y": 4e-15}, {"c": "gr", "x": 0.081, "y": 4e-15},
      {"c": "gr", "x": 0.0843, "y": 4e-15}, {"c": "gr", "x": 0.0878, "y": 4e-15}, {"c": "gr", "x": 0.0915, "y": 4e-15}, {"c": "gr", "x": 0.0953, "y": 4e-15}, {"c": "gr", "x": 0.0992, "y": 4e-15}, {"c": "gr", "x": 0.1033, "y": 4e-15},
      {"c": "gr", "x": 0.1076, "y": 4e-15}, {"c": "gr", "x": 0.1167, "y": 4e-15}, {"c": "gr", "x": 0.1265, "y": 4e-15}, {"c": "gr", "x": 0.1317, "y": 4e-15}, {"c": "gr", "x": 0.1549, "y": 4e-15}, {"c": "gr", "x": 0.1613, "y": 4e-15},
      {"c": "gr", "x": 0.1715, "y": 4e-15}, {"c": "gr", "x": 0.1962, "y": 4e-15}, {"c": "gr", "x": 0.2447, "y": 4e-15},
      {"c": "gr", "x": 0.0519, "y": 3e-15}, {"c": "gr", "x": 0.054, "y": 3e-15}, {"c": "gr", "x": 0.0562, "y": 3e-15}, {"c": "gr", "x": 0.0586, "y": 3e-15}, {"c": "gr", "x": 0.061, "y": 3e-15}, {"c": "gr", "x": 0.0635, "y": 3e-15},
      {"c": "gr", "x": 0.0661, "y": 3e-15}, {"c": "gr", "x": 0.0689, "y": 3e-15}, {"c": "gr", "x": 0.0717, "y": 3e-15}, {"c": "gr", "x": 0.0747, "y": 3e-15}, {"c": "gr", "x": 0.0778, "y": 3e-15}, {"c": "gr", "x": 0.081, "y": 3e-15},
      {"c": "gr", "x": 0.0843, "y": 3e-15}, {"c": "gr", "x": 0.0878, "y": 3e-15}, {"c": "gr", "x": 0.0915, "y": 3e-15}, {"c": "gr", "x": 0.0953, "y": 3e-15}, {"c": "gr", "x": 0.0992, "y": 3e-15}, {"c": "gr", "x": 0.1265, "y": 3e-15},
      {"c": "gr", "x": 0.0523, "y": 2e-15}, {"c": "gr", "x": 0.0567, "y": 2e-15}, {"c": "gr", "x": 0.063, "y": 2e-15}, {"c": "gr", "x": 0.0667, "y": 2e-15}, {"c": "gr", "x": 0.1882, "y": 2e-15}, {"c": "gr", "x": 0.2846, "y": 2e-15},
      {"c": "gr", "x": 0.555, "y": 8.5e-15}, {"c": "gr", "x": 0.71, "y": 9.6e-15}, {"c": "gr", "x": 0.77, "y": 1.07e-14}, {"c": "gr", "x": 0.6, "y": 9.0e-15},
      {"c": "gr", "x": 0.229, "y": 3.0e-12}, {"c": "gr", "x": 0.242, "y": 2.7e-12}, {"c": "gr", "x": 0.253, "y": 4.0e-12}, {"c": "gr", "x": 0.271, "y": 5.0e-12}, {"c": "gr", "x": 0.283, "y": 5.5e-12},
      {"c": "gr", "x": 0.236, "y": 7.0e-12}, {"c": "gr", "x": 0.26, "y": 6.5e-12}, {"c": "gr", "x": 0.279, "y": 1.2e-11}, {"c": "gr", "x": 0.293, "y": 2.4e-11}, {"c": "gr", "x": 0.245, "y": 1.4e-11},

      {"c": "or", "x": 0.198, "y": 2.4e-12}, {"c": "or", "x": 0.198, "y": 7.5e-12}, {"c": "or", "x": 0.198, "y": 1.6e-11},
      {"c": "or", "x": 0.205, "y": 1.4e-12}, {"c": "or", "x": 0.205, "y": 4.8e-12}, {"c": "or", "x": 0.205, "y": 3e-11},
      {"c": "or", "x": 0.212, "y": 3.4e-12}, {"c": "or", "x": 0.212, "y": 1.3e-11}, {"c": "or", "x": 0.212, "y": 4.2e-11},
      {"c": "or", "x": 0.219, "y": 2.2e-12}, {"c": "or", "x": 0.219, "y": 6.5e-12}, {"c": "or", "x": 0.219, "y": 2.1e-11},
      {"c": "or", "x": 0.227, "y": 4.5e-12}, {"c": "or", "x": 0.227, "y": 9e-12}, {"c": "or", "x": 0.227, "y": 3.2e-11}, {"c": "or", "x": 0.227, "y": 7e-11},
      {"c": "or", "x": 0.235, "y": 3e-12}, {"c": "or", "x": 0.235, "y": 1.5e-11}, {"c": "or", "x": 0.235, "y": 5e-11},
      {"c": "or", "x": 0.243, "y": 6e-12}, {"c": "or", "x": 0.243, "y": 2.4e-11}, {"c": "or", "x": 0.243, "y": 8.5e-11},
      {"c": "or", "x": 0.252, "y": 9e-12}, {"c": "or", "x": 0.252, "y": 3.5e-11}, {"c": "or", "x": 0.252, "y": 6.5e-11},
      {"c": "or", "x": 0.26, "y": 1.7e-11}, {"c": "or", "x": 0.26, "y": 5e-11}, {"c": "or", "x": 0.26, "y": 1.2e-10},
      {"c": "or", "x": 0.268, "y": 2.2e-11}, {"c": "or", "x": 0.268, "y": 8e-11}, {"c": "or", "x": 0.268, "y": 1.6e-10},
      {"c": "or", "x": 0.276, "y": 3e-11}, {"c": "or", "x": 0.276, "y": 1.1e-10}, {"c": "or", "x": 0.276, "y": 2.2e-10},
      {"c": "or", "x": 0.284, "y": 4.6e-11}, {"c": "or", "x": 0.284, "y": 2.4e-10},
      {"c": "or", "x": 0.226, "y": 2.6e-12}, {"c": "or", "x": 0.232, "y": 3.8e-12}, {"c": "or", "x": 0.238, "y": 2.4e-12}, {"c": "or", "x": 0.245, "y": 3.5e-12}, {"c": "or", "x": 0.25, "y": 5e-12},
      {"c": "or", "x": 0.256, "y": 3e-12}, {"c": "or", "x": 0.262, "y": 4.2e-12}, {"c": "or", "x": 0.268, "y": 3.2e-12}, {"c": "or", "x": 0.274, "y": 5.5e-12}, {"c": "or", "x": 0.28, "y": 4.2e-12},
      {"c": "or", "x": 0.286, "y": 6e-12}, {"c": "or", "x": 0.292, "y": 4.8e-12}, {"c": "or", "x": 0.298, "y": 7.5e-12}, {"c": "or", "x": 0.289, "y": 9.5e-12}, {"c": "or", "x": 0.281, "y": 7.5e-12},
      {"c": "or", "x": 0.27, "y": 1.2e-11}, {"c": "or", "x": 0.262, "y": 8e-12}, {"c": "or", "x": 0.255, "y": 1.4e-11}, {"c": "or", "x": 0.248, "y": 1.05e-11}, {"c": "or", "x": 0.24, "y": 8e-12},
      {"c": "or", "x": 0.232, "y": 1.2e-11}, {"c": "or", "x": 0.29, "y": 1.4e-11}, {"c": "or", "x": 0.296, "y": 2e-11}, {"c": "or", "x": 0.286, "y": 2.6e-11}, {"c": "or", "x": 0.278, "y": 1.8e-11},
      {"c": "or", "x": 0.265, "y": 2.8e-11}, {"c": "or", "x": 0.298, "y": 3.2e-11}, {"c": "or", "x": 0.292, "y": 4.5e-11}, {"c": "or", "x": 0.3, "y": 6e-11}, {"c": "or", "x": 0.288, "y": 7e-11},
      {"c": "or", "x": 0.296, "y": 9e-11}, {"c": "or", "x": 0.282, "y": 1.4e-10}, {"c": "or", "x": 0.292, "y": 1.8e-10}, {"c": "or", "x": 0.3, "y": 1.3e-10}, {"c": "or", "x": 0.298, "y": 2.5e-10},
      {"c": "or", "x": 0.1914, "y": 2.2e-11}, {"c": "or", "x": 0.2033, "y": 1.8e-11}, {"c": "or", "x": 0.2033, "y": 9.3e-12}, {"c": "or", "x": 0.186, "y": 4.1e-12}, {"c": "or", "x": 0.1898, "y": 2.8e-12},
      {"c": "or", "x": 0.192, "y": 2.4e-12}, {"c": "or", "x": 0.2, "y": 1.55e-12}, {"c": "or", "x": 0.0861, "y": 5.9e-14}, {"c": "or", "x": 0.1265, "y": 9e-15}, {"c": "or", "x": 0.1328, "y": 3.2e-14},
      {"c": "or", "x": 0.1424, "y": 1.14e-13}, {"c": "or", "x": 0.147, "y": 8.5e-14}, {"c": "or", "x": 0.1715, "y": 1.4e-13}, {"c": "or", "x": 0.186, "y": 1.61e-13}, {"c": "or", "x": 0.192, "y": 1.95e-13},
      {"c": "or", "x": 0.161, "y": 1.3e-13}, {"c": "or", "x": 0.153, "y": 8e-14}, {"c": "or", "x": 0.552, "y": 3.1e-13}, {"c": "or", "x": 0.5905, "y": 1.61e-13}, {"c": "or", "x": 0.6149, "y": 3.5e-13},
      {"c": "or", "x": 0.556, "y": 2.6e-13}, {"c": "or", "x": 0.575, "y": 1.33e-13}, {"c": "or", "x": 0.585, "y": 1.1e-13}, {"c": "or", "x": 0.552, "y": 7e-14}, {"c": "or", "x": 0.51, "y": 2.6e-14},
      {"c": "or", "x": 0.4385, "y": 1.1e-14}, {"c": "or", "x": 0.3176, "y": 7e-15}, {"c": "or", "x": 0.5052, "y": 2.57e-14}, {"c": "or", "x": 0.2625, "y": 5e-15},
      {"c": "or", "x": 0.135, "y": 4.2e-14}, {"c": "or", "x": 0.14, "y": 2.0e-14}, {"c": "or", "x": 0.155, "y": 1.9e-14}, {"c": "or", "x": 0.17, "y": 1.95e-14}, {"c": "or", "x": 0.185, "y": 2.05e-14},
      {"c": "or", "x": 0.2, "y": 2.3e-14}, {"c": "or", "x": 0.22, "y": 2.6e-14}, {"c": "or", "x": 0.24, "y": 2.0e-14}, {"c": "or", "x": 0.255, "y": 1.5e-14}, {"c": "or", "x": 0.28, "y": 9.5e-15},
      {"c": "or", "x": 0.3, "y": 9.0e-15}, {"c": "or", "x": 0.33, "y": 9.5e-15}, {"c": "or", "x": 0.36, "y": 1.15e-14}, {"c": "or", "x": 0.39, "y": 1.5e-14}, {"c": "or", "x": 0.42, "y": 1.65e-14},
      {"c": "or", "x": 0.45, "y": 2.1e-14}, {"c": "or", "x": 0.16, "y": 9.5e-14}, {"c": "or", "x": 0.17, "y": 1.7e-13}, {"c": "or", "x": 0.6, "y": 1.9e-13}, {"c": "or", "x": 0.59, "y": 7.5e-14}, {"c": "or", "x": 0.6, "y": 2.8e-13},
      {"c": "or", "x": 0.32, "y": 7.5e-10}, {"c": "or", "x": 0.34, "y": 7.8e-10}, {"c": "or", "x": 0.36, "y": 7.6e-10}, {"c": "or", "x": 0.38, "y": 5.8e-10}, {"c": "or", "x": 0.3, "y": 3.5e-10}, {"c": "or", "x": 0.296, "y": 2.6e-10},

      {"c": "rd", "x": 0.1067, "y": 1.03e-13}, {"c": "rd", "x": 0.1167, "y": 9.75e-14}, {"c": "rd", "x": 0.1148, "y": 5.79e-14}, {"c": "rd", "x": 0.12, "y": 1.38e-13}, {"c": "rd", "x": 0.1344, "y": 6.5e-14},
      {"c": "rd", "x": 0.1334, "y": 9.0e-14}, {"c": "rd", "x": 0.1411, "y": 1.77e-13}, {"c": "rd", "x": 0.1411, "y": 1.41e-13}, {"c": "rd", "x": 0.1568, "y": 1.52e-13}, {"c": "rd", "x": 0.1606, "y": 1.99e-13},
      {"c": "rd", "x": 0.1715, "y": 2.07e-13}, {"c": "rd", "x": 0.1771, "y": 1.71e-13}, {"c": "rd", "x": 0.1836, "y": 1.77e-13}, {"c": "rd", "x": 0.192, "y": 1.99e-13}, {"c": "rd", "x": 0.192, "y": 1.09e-13},
      {"c": "rd", "x": 0.1843, "y": 6.5e-14}, {"c": "rd", "x": 0.1482, "y": 6.5e-14}, {"c": "rd", "x": 0.1317, "y": 3.55e-12}, {"c": "rd", "x": 0.1581, "y": 1.64e-12}, {"c": "rd", "x": 0.152, "y": 5.9e-13},
      {"c": "rd", "x": 0.2593, "y": 1.26e-10}, {"c": "rd", "x": 0.4765, "y": 1.06e-10}, {"c": "rd", "x": 0.4629, "y": 2.14e-11}, {"c": "rd", "x": 0.4784, "y": 1.24e-11}, {"c": "rd", "x": 0.5021, "y": 1.37e-11},
      {"c": "rd", "x": 0.5557, "y": 5.97e-12}, {"c": "rd", "x": 0.5513, "y": 3.1e-12}, {"c": "rd", "x": 0.5401, "y": 4.23e-13}, {"c": "rd", "x": 0.5401, "y": 1.41e-13}, {"c": "rd", "x": 0.3176, "y": 2.12e-14},
      {"c": "rd", "x": 0.3347, "y": 1.92e-14}, {"c": "rd", "x": 0.3527, "y": 1.5e-14}, {"c": "rd", "x": 0.344, "y": 3.1e-10}, {"c": "rd", "x": 0.305, "y": 1.9e-10}, {"c": "rd", "x": 0.312, "y": 8e-11},
      {"c": "rd", "x": 0.318, "y": 4e-11}, {"c": "rd", "x": 0.3, "y": 2.2e-11}, {"c": "rd", "x": 0.29, "y": 8e-12}, {"c": "rd", "x": 0.285, "y": 1.6e-11}, {"c": "rd", "x": 0.275, "y": 4.5e-12},
      {"c": "rd", "x": 0.296, "y": 3.5e-11}, {"c": "rd", "x": 0.268, "y": 7e-12}, {"c": "rd", "x": 0.283, "y": 2.8e-12}, {"c": "rd", "x": 0.264, "y": 1.5e-12}, {"c": "rd", "x": 0.1, "y": 1.15e-12},
      {"c": "rd", "x": 0.099, "y": 9e-13}, {"c": "rd", "x": 0.148, "y": 1.1e-12}, {"c": "rd", "x": 0.15, "y": 8e-13}, {"c": "rd", "x": 0.108, "y": 6e-13}, {"c": "rd", "x": 0.13, "y": 6.2e-13},
      {"c": "rd", "x": 0.142, "y": 6.8e-13}, {"c": "rd", "x": 0.118, "y": 2.05e-12}, {"c": "rd", "x": 0.135, "y": 2.1e-12}, {"c": "rd", "x": 0.155, "y": 1.0e-12}, {"c": "rd", "x": 0.52, "y": 4e-12},
      {"c": "rd", "x": 0.548, "y": 1.5e-12}, {"c": "rd", "x": 0.555, "y": 8e-13}, {"c": "rd", "x": 0.56, "y": 5.5e-13}, {"c": "rd", "x": 0.545, "y": 2.5e-13}, {"c": "rd", "x": 0.55, "y": 9e-14},
      {"c": "rd", "x": 0.53, "y": 6e-14}, {"c": "rd", "x": 0.5, "y": 4e-14}, {"c": "rd", "x": 0.47, "y": 3e-14}, {"c": "rd", "x": 0.245, "y": 1.0e-12}, {"c": "rd", "x": 0.255, "y": 8e-13},

      {"c": "bl", "x": 0.3347, "y": 2.74e-10}, {"c": "bl", "x": 0.328, "y": 2.05e-10}, {"c": "bl", "x": 0.3347, "y": 1.39e-10}, {"c": "bl", "x": 0.3416, "y": 1.26e-10}, {"c": "bl", "x": 0.3704, "y": 1.26e-10},
      {"c": "bl", "x": 0.3416, "y": 7.8e-11}, {"c": "bl", "x": 0.363, "y": 5.84e-11}, {"c": "bl", "x": 0.328, "y": 3.97e-11}, {"c": "bl", "x": 0.3557, "y": 4.81e-11}, {"c": "bl", "x": 0.3347, "y": 2.97e-11},
      {"c": "bl", "x": 0.3485, "y": 2.45e-11}, {"c": "bl", "x": 0.2964, "y": 3.6e-11}, {"c": "bl", "x": 0.3025, "y": 1.83e-11}, {"c": "bl", "x": 0.3347, "y": 1.83e-11}, {"c": "bl", "x": 0.3557, "y": 1.66e-11},
      {"c": "bl", "x": 0.328, "y": 1.24e-11}, {"c": "bl", "x": 0.3485, "y": 1.13e-11}, {"c": "bl", "x": 0.328, "y": 8.46e-12}, {"c": "bl", "x": 0.315, "y": 8.46e-12}, {"c": "bl", "x": 0.363, "y": 7.68e-12},
      {"c": "bl", "x": 0.3347, "y": 6.33e-12}, {"c": "bl", "x": 0.3485, "y": 4.74e-12}, {"c": "bl", "x": 0.2904, "y": 5.75e-12}, {"c": "bl", "x": 0.3416, "y": 3.91e-12}, {"c": "bl", "x": 0.3557, "y": 3.55e-12},
      {"c": "bl", "x": 0.328, "y": 2.65e-12}, {"c": "bl", "x": 0.3485, "y": 2.19e-12}, {"c": "bl", "x": 0.2964, "y": 1.49e-12}, {"c": "bl", "x": 0.3416, "y": 1.23e-12}, {"c": "bl", "x": 0.3214, "y": 2.41e-12},
      {"c": "bl", "x": 0.3087, "y": 1.64e-12}, {"c": "bl", "x": 0.363, "y": 1.23e-12}, {"c": "bl", "x": 0.3025, "y": 7.56e-13}, {"c": "bl", "x": 0.3347, "y": 6.86e-13}, {"c": "bl", "x": 0.3557, "y": 6.23e-13},
      {"c": "bl", "x": 0.3704, "y": 7.56e-13}, {"c": "bl", "x": 0.3936, "y": 7.56e-13}, {"c": "bl", "x": 0.4183, "y": 8.32e-13}, {"c": "bl", "x": 0.4356, "y": 1e-12}, {"c": "bl", "x": 0.4017, "y": 9.17e-13},
      {"c": "bl", "x": 0.247, "y": 6.23e-13}, {"c": "bl", "x": 0.2679, "y": 5.14e-13}, {"c": "bl", "x": 0.2964, "y": 5.66e-13}, {"c": "bl", "x": 0.3485, "y": 4.23e-13}, {"c": "bl", "x": 0.3704, "y": 3.84e-13},
      {"c": "bl", "x": 0.3485, "y": 2.88e-13}, {"c": "bl", "x": 0.3087, "y": 2.88e-13}, {"c": "bl", "x": 0.2789, "y": 3.84e-13}, {"c": "bl", "x": 0.2625, "y": 3.84e-13}, {"c": "bl", "x": 0.2572, "y": 2.61e-13},
      {"c": "bl", "x": 0.2733, "y": 2.37e-13}, {"c": "bl", "x": 0.2904, "y": 1.95e-13}, {"c": "bl", "x": 0.3087, "y": 2.15e-13}, {"c": "bl", "x": 0.328, "y": 1.95e-13}, {"c": "bl", "x": 0.3485, "y": 1.33e-13},
      {"c": "bl", "x": 0.3557, "y": 1.09e-13}, {"c": "bl", "x": 0.3214, "y": 1.09e-13}, {"c": "bl", "x": 0.3025, "y": 1.2e-13}, {"c": "bl", "x": 0.315, "y": 9.02e-14}, {"c": "bl", "x": 0.2904, "y": 7.44e-14},
      {"c": "bl", "x": 0.2733, "y": 6.75e-14}, {"c": "bl", "x": 0.3025, "y": 8.19e-14}, {"c": "bl", "x": 0.3214, "y": 7.44e-14}, {"c": "bl", "x": 0.3347, "y": 5.57e-14}, {"c": "bl", "x": 0.363, "y": 8.19e-14},
      {"c": "bl", "x": 0.4445, "y": 2.15e-13}, {"c": "bl", "x": 0.4536, "y": 1.2e-13}, {"c": "bl", "x": 0.4724, "y": 1.46e-13}, {"c": "bl", "x": 0.5124, "y": 1.46e-13}, {"c": "bl", "x": 0.5021, "y": 1.09e-13},
      {"c": "bl", "x": 0.4822, "y": 9.02e-14}, {"c": "bl", "x": 0.5229, "y": 6.75e-14}, {"c": "bl", "x": 0.4269, "y": 1.09e-13}, {"c": "bl", "x": 0.5229, "y": 1.61e-13}, {"c": "bl", "x": 0.4629, "y": 3.49e-13},
      {"c": "bl", "x": 0.3416, "y": 2.57e-14}, {"c": "bl", "x": 0.3214, "y": 1.59e-14}, {"c": "bl", "x": 0.4183, "y": 1.31e-14}, {"c": "bl", "x": 0.2017, "y": 8.19e-14}, {"c": "bl", "x": 0.2371, "y": 4.59e-14},
      {"c": "bl", "x": 0.2679, "y": 3.43e-14}, {"c": "bl", "x": 0.2625, "y": 4.17e-14}, {"c": "bl", "x": 0.2789, "y": 4.59e-14}, {"c": "bl", "x": 0.252, "y": 5.05e-14},
      {"c": "bl", "x": 0.205, "y": 1.1e-13}, {"c": "bl", "x": 0.209, "y": 7e-14}, {"c": "bl", "x": 0.216, "y": 1.6e-13}, {"c": "bl", "x": 0.228, "y": 2.4e-13}, {"c": "bl", "x": 0.243, "y": 2.9e-13},
      {"c": "bl", "x": 0.26, "y": 1.9e-13}, {"c": "bl", "x": 0.27, "y": 1.5e-13}, {"c": "bl", "x": 0.262, "y": 9e-14}, {"c": "bl", "x": 0.245, "y": 7e-14},
      {"c": "bl", "x": 0.345, "y": 4.5e-14}, {"c": "bl", "x": 0.36, "y": 3e-14}, {"c": "bl", "x": 0.38, "y": 5.8e-14}, {"c": "bl", "x": 0.4, "y": 6.0e-14}, {"c": "bl", "x": 0.43, "y": 5.8e-14},
      {"c": "bl", "x": 0.447, "y": 4.8e-14}, {"c": "bl", "x": 0.46, "y": 3.6e-14}, {"c": "bl", "x": 0.395, "y": 1.75e-14}, {"c": "bl", "x": 0.36, "y": 1.9e-14},
      {"c": "bl", "x": 0.385, "y": 5e-11}, {"c": "bl", "x": 0.39, "y": 2e-11}, {"c": "bl", "x": 0.38, "y": 8e-12}, {"c": "bl", "x": 0.378, "y": 4e-12}, {"c": "bl", "x": 0.385, "y": 2e-12},
      {"c": "bl", "x": 0.445, "y": 4.5e-12}, {"c": "bl", "x": 0.448, "y": 8e-12}, {"c": "bl", "x": 0.447, "y": 4e-11}, {"c": "bl", "x": 0.444, "y": 8e-11}, {"c": "bl", "x": 0.44, "y": 1.3e-12},
      {"c": "bl", "x": 0.43, "y": 1.4e-12}, {"c": "bl", "x": 0.405, "y": 1.25e-12}, {"c": "bl", "x": 0.39, "y": 1.4e-12},
      {"c": "bl", "x": 0.4, "y": 1.4e-10}, {"c": "bl", "x": 0.41, "y": 2.0e-10}, {"c": "bl", "x": 0.425, "y": 1.6e-10}, {"c": "bl", "x": 0.435, "y": 2.3e-10}, {"c": "bl", "x": 0.42, "y": 2.6e-10},
      {"c": "bl", "x": 0.395, "y": 2.2e-10}, {"c": "bl", "x": 0.43, "y": 1.2e-10}, {"c": "bl", "x": 0.405, "y": 1.0e-10}, {"c": "bl", "x": 0.44, "y": 1.0e-10}, {"c": "bl", "x": 0.415, "y": 1.3e-10},
      {"c": "bl", "x": 0.388, "y": 1.5e-10}, {"c": "bl", "x": 0.375, "y": 2.1e-10}
    ],
    "limits": [
      {"s": "Lux 2018", "x": 0.051, "y": 1.19e-10}, {"s": "Lux 2018", "x": 0.0689, "y": 1.53e-10}, {"s": "Lux 2018", "x": 0.1033, "y": 2.05e-10}, {"s": "Lux 2018", "x": 0.1549, "y": 2.74e-10},
      {"s": "Lux 2018", "x": 0.2058, "y": 3.52e-10}, {"s": "Lux 2018", "x": 0.3485, "y": 5.93e-10}, {"s": "Lux 2018", "x": 0.5739, "y": 1e-9},
      {"s": "LZ", "x": 0.051, "y": 1.7e-12}, {"s": "LZ", "x": 0.055, "y": 1.72e-12}, {"s": "LZ", "x": 0.0602, "y": 1.87e-12}, {"s": "LZ", "x": 0.0854, "y": 2.19e-12}, {"s": "LZ", "x": 0.1033, "y": 2.5e-12},
      {"s": "LZ", "x": 0.1281, "y": 2.92e-12}, {"s": "LZ", "x": 0.1613, "y": 3.69e-12}, {"s": "LZ", "x": 0.2058, "y": 4.56e-12}, {"s": "LZ", "x": 0.2964, "y": 6.33e-12}, {"s": "LZ", "x": 0.4445, "y": 8.79e-12}, {"s": "LZ", "x": 0.8, "y": 1.76e-11},
      {"s": "XENON1T", "x": 0.051, "y": 1.35e-12}, {"s": "XENON1T", "x": 0.1033, "y": 1.67e-12}, {"s": "XENON1T", "x": 0.2058, "y": 2.06e-12}, {"s": "XENON1T", "x": 0.41, "y": 2.65e-12}, {"s": "XENON1T", "x": 0.8, "y": 3.41e-12},
      {"s": "XENONnT", "x": 0.051, "y": 3.05e-13}, {"s": "XENONnT", "x": 0.1033, "y": 3.7e-13}, {"s": "XENONnT", "x": 0.2058, "y": 4.49e-13}, {"s": "XENONnT", "x": 0.41, "y": 5.66e-13}, {"s": "XENONnT", "x": 0.8, "y": 7.27e-13},
      {"s": "Darwin", "x": 0.1098, "y": 3.77e-13}, {"s": "Darwin", "x": 0.119, "y": 4.07e-13}, {"s": "Darwin", "x": 0.124, "y": 4.23e-13}, {"s": "Darwin", "x": 0.1265, "y": 4.15e-13},
      {"s": "Darwin", "x": 0.1317, "y": 4.57e-13}, {"s": "Darwin", "x": 0.1428, "y": 4.85e-13}, {"s": "Darwin", "x": 0.1458, "y": 4.76e-13}, {"s": "Darwin", "x": 0.1549, "y": 5.14e-13},
      {"s": "Darwin", "x": 0.168, "y": 5.66e-13}, {"s": "Darwin", "x": 0.1736, "y": 6.11e-13}, {"s": "Darwin", "x": 0.1822, "y": 6.23e-13}, {"s": "Darwin", "x": 0.2033, "y": 6.86e-13},
      {"s": "Darwin", "x": 0.2232, "y": 7.27e-13}, {"s": "Darwin", "x": 0.2593, "y": 8.01e-13}, {"s": "Darwin", "x": 0.2789, "y": 8.49e-13}, {"s": "Darwin", "x": 0.2964, "y": 8.99e-13},
      {"s": "Darwin", "x": 0.3176, "y": 9.53e-13}, {"s": "Darwin", "x": 0.33, "y": 1.0e-12}, {"s": "Darwin", "x": 0.335, "y": 9.6e-13}, {"s": "Darwin", "x": 0.3485, "y": 1.03e-12},
      {"s": "Darwin", "x": 0.378, "y": 1.09e-12}, {"s": "Darwin", "x": 0.415, "y": 1.18e-12}, {"s": "Darwin", "x": 0.43, "y": 1.26e-12}, {"s": "Darwin", "x": 0.435, "y": 1.2e-12},
      {"s": "Darwin", "x": 0.4445, "y": 1.27e-12}, {"s": "Darwin", "x": 0.4629, "y": 1.32e-12}, {"s": "Darwin", "x": 0.4822, "y": 1.4e-12}, {"s": "Darwin", "x": 0.5082, "y": 1.55e-12},
      {"s": "Darwin", "x": 0.52, "y": 1.62e-12}, {"s": "Darwin", "x": 0.525, "y": 1.52e-12}, {"s": "Darwin", "x": 0.5335, "y": 1.58e-12}, {"s": "Darwin", "x": 0.567, "y": 1.64e-12},
      {"s": "Darwin", "x": 0.6, "y": 1.8e-12}, {"s": "Darwin", "x": 0.605, "y": 1.72e-12}, {"s": "Darwin", "x": 0.6149, "y": 1.84e-12}, {"s": "Darwin", "x": 0.6668, "y": 1.95e-12},
      {"s": "Darwin", "x": 0.69, "y": 2.05e-12}, {"s": "Darwin", "x": 0.695, "y": 1.95e-12}, {"s": "Darwin", "x": 0.7233, "y": 2.1e-12}, {"s": "Darwin", "x": 0.75, "y": 2.2e-12},
      {"s": "Darwin", "x": 0.755, "y": 2.1e-12}, {"s": "Darwin", "x": 0.7685, "y": 2.19e-12}, {"s": "Darwin", "x": 0.8, "y": 2.32e-12}
    ]
  },
  "encoding": {
    "x": {
      "field": "x", "type": "quantitative",
      "scale": {"type": "log", "domain": [0.051, 0.8], "nice": false},
      "title": "mχ̃⁰₁ (TeV)",
      "axis": {
        "values": [0.06, 0.07, 0.08, 0.09, 0.1, 0.2, 0.3, 0.4, 0.5, 0.6, 0.7, 0.8],
        "labelExpr": "indexof([0.1, 0.2, 0.4, 0.8], datum.value) >= 0 ? format(datum.value, '.1f') : ''",
        "tickSize": {"condition": {"test": "indexof([0.1, 0.2, 0.4, 0.8], datum.value) >= 0", "value": 6}, "value": 3.5},
        "labelOverlap": false, "labelFlush": false,
        "labelFont": "Liberation Sans", "labelFontSize": 19, "labelPadding": 5,
        "titleFont": "DejaVu Serif", "titleFontSize": 27, "titlePadding": 13
      }
    },
    "y": {
      "field": "y", "type": "quantitative",
      "scale": {"type": "log", "domain": [1e-15, 1e-9], "nice": false},
      "title": "σSI (pb)",
      "axis": {
        "values": [1e-15, 2e-15, 3e-15, 4e-15, 5e-15, 6e-15, 7e-15, 8e-15, 9e-15, 1e-14, 2e-14, 3e-14, 4e-14, 5e-14, 6e-14, 7e-14, 8e-14, 9e-14, 1e-13, 2e-13, 3e-13, 4e-13, 5e-13, 6e-13, 7e-13, 8e-13, 9e-13, 1e-12, 2e-12, 3e-12, 4e-12, 5e-12, 6e-12, 7e-12, 8e-12, 9e-12, 1e-11, 2e-11, 3e-11, 4e-11, 5e-11, 6e-11, 7e-11, 8e-11, 9e-11, 1e-10, 2e-10, 3e-10, 4e-10, 5e-10, 6e-10, 7e-10, 8e-10, 9e-10, 1e-9],
        "labelExpr": "indexof([1e-15, 1e-14, 1e-13, 1e-12, 1e-11, 1e-10, 1e-9], datum.value) >= 0 ? ['10⁻¹⁵', '10⁻¹⁴', '10⁻¹³', '10⁻¹²', '10⁻¹¹', '10⁻¹⁰', '10⁻⁹'][indexof([1e-15, 1e-14, 1e-13, 1e-12, 1e-11, 1e-10, 1e-9], datum.value)] : ''",
        "tickSize": {"condition": {"test": "indexof([1e-15, 1e-14, 1e-13, 1e-12, 1e-11, 1e-10, 1e-9], datum.value) >= 0", "value": 6}, "value": 3.5},
        "labelOverlap": false, "labelFlush": false,
        "labelFont": "DejaVu Serif", "labelFontSize": 21, "labelPadding": 5,
        "titleFont": "DejaVu Serif", "titleFontSize": 30, "titlePadding": 12
      }
    }
  },
  "layer": [
    {"data": {"name": "brownBand"}, "mark": {"type": "area", "color": "#bc8f8f", "stroke": "#bc8f8f", "strokeWidth": 9, "strokeCap": "round", "strokeDash": [0.1, 10], "opacity": 1, "clip": true}, "encoding": {"y2": {"field": "y2"}, "detail": {"field": "g"}}},
    {"data": {"name": "greenBand"}, "mark": {"type": "area", "color": "#00ff7f", "stroke": "#00ff7f", "strokeWidth": 9, "strokeCap": "round", "strokeDash": [0.1, 10], "opacity": 1, "clip": true}, "encoding": {"y2": {"field": "y2"}, "detail": {"field": "g"}}},
    {"data": {"name": "dots"}, "transform": [{"filter": "datum.c == 'br'"}], "mark": {"type": "circle", "color": "#bc8f8f", "opacity": 1, "size": 85, "clip": true}},
    {"data": {"name": "dots"}, "transform": [{"filter": "datum.c == 'gr'"}], "mark": {"type": "circle", "color": "#00ff7f", "opacity": 1, "size": 85, "clip": true}},
    {"data": {"name": "orangeBand"}, "mark": {"type": "area", "color": "#ffa500", "stroke": "#ffa500", "strokeWidth": 9, "strokeCap": "round", "strokeDash": [0.1, 10], "opacity": 1, "clip": true}, "encoding": {"y2": {"field": "y2"}, "detail": {"field": "g"}}},
    {"data": {"name": "dots"}, "transform": [{"filter": "datum.c == 'or'"}], "mark": {"type": "circle", "color": "#ffa500", "opacity": 1, "size": 85, "clip": true}},
    {"data": {"name": "redBand"}, "mark": {"type": "area", "color": "#ff0000", "stroke": "#ff0000", "strokeWidth": 9, "strokeCap": "round", "strokeDash": [0.1, 10], "opacity": 1, "clip": true}, "encoding": {"y2": {"field": "y2"}, "detail": {"field": "g"}}},
    {"data": {"name": "dots"}, "transform": [{"filter": "datum.c == 'rd'"}], "mark": {"type": "circle", "color": "#ff0000", "opacity": 1, "size": 85, "clip": true}},
    {"data": {"name": "blueBand"}, "mark": {"type": "area", "color": "#0000ff", "stroke": "#0000ff", "strokeWidth": 9, "strokeCap": "round", "strokeDash": [0.1, 10], "opacity": 1, "clip": true}, "encoding": {"y2": {"field": "y2"}, "detail": {"field": "g"}}},
    {"data": {"name": "dots"}, "transform": [{"filter": "datum.c == 'bl'"}], "mark": {"type": "circle", "color": "#0000ff", "opacity": 1, "size": 85, "clip": true}},
    {
      "data": {"name": "limits"},
      "mark": {"type": "line", "strokeWidth": 2.5, "clip": true},
      "encoding": {
        "color": {
          "field": "s", "type": "nominal",
          "scale": {"domain": ["Lux 2018", "LZ", "XENON1T", "XENONnT", "Darwin"], "range": ["black", "black", "#0000ff", "#0000ff", "#008000"]},
          "legend": {"title": null, "orient": "none", "legendX": 7, "legendY": 570, "symbolType": "M-2.7,0H1", "symbolSize": 400, "symbolStrokeWidth": 2.5, "symbolOffset": 17, "labelFont": "Liberation Sans", "labelFontSize": 16, "labelColor": "black", "labelOffset": 7, "rowPadding": 6.5, "padding": 8, "fillColor": "rgba(255,255,255,0.8)", "strokeColor": "#cccccc", "cornerRadius": 4}
        },
        "strokeDash": {
          "field": "s", "type": "nominal",
          "scale": {"domain": ["Lux 2018", "LZ", "XENON1T", "XENONnT", "Darwin"], "range": [[9, 4], [1, 0], [9, 4], [1, 0], [1, 0]]},
          "legend": {"title": null, "orient": "none", "legendX": 7, "legendY": 570, "symbolType": "M-2.7,0H1", "symbolSize": 400, "symbolStrokeWidth": 2.5, "symbolOffset": 17, "labelFont": "Liberation Sans", "labelFontSize": 16, "labelColor": "black", "labelOffset": 7, "rowPadding": 6.5, "padding": 8, "fillColor": "rgba(255,255,255,0.8)", "strokeColor": "#cccccc", "cornerRadius": 4}
        }
      }
    }
  ]
}
